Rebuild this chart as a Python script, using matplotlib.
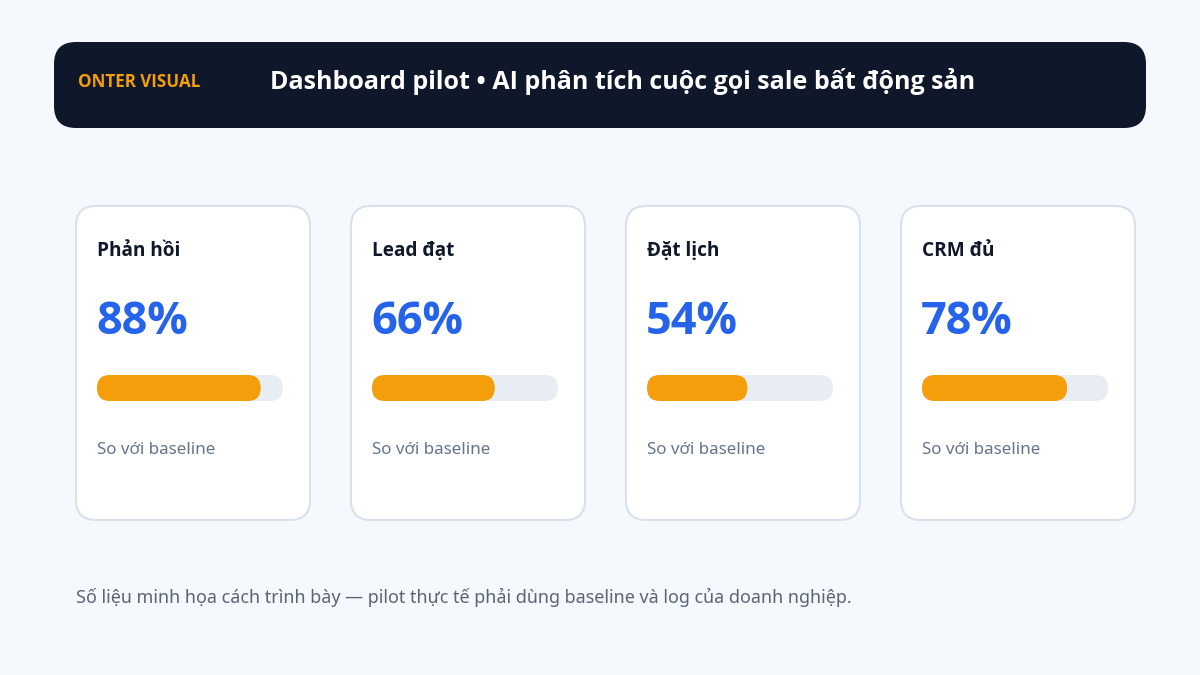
import matplotlib
matplotlib.use("Agg")
import matplotlib.pyplot as plt
from matplotlib.patches import FancyBboxPatch

plt.rcParams['font.family'] = ['Noto Sans', 'DejaVu Sans']
BOLD = ['Open Sans', 'DejaVu Sans']

brand = "ONTER VISUAL"
title = "Dashboard pilot • AI phân tích cuộc gọi sale bất động sản"
labels = ["Phản hồi", "Lead đạt", "Đặt lịch", "CRM đủ"]
values = [88, 66, 54, 78]
subtitle = "So với baseline"
footer = "Số liệu minh họa cách trình bày — pilot thực tế phải dùng baseline và log của doanh nghiệp."

PT = 0.72  # px -> pt at dpi 100
fig = plt.figure(figsize=(12, 6.75), dpi=100)
fig.patch.set_facecolor("#f5f8fc")
ax = fig.add_axes([0, 0, 1, 1])
ax.set_xlim(0, 1200)
ax.set_ylim(675, 0)
ax.axis("off")

ax.add_patch(FancyBboxPatch((54, 42), 1092, 86, boxstyle="round,pad=0,rounding_size=22",
                            fc="#0f172a", ec="none"))
ax.text(78, 82, brand, color="#f59e0b", fontsize=17*PT, fontweight="bold", family=BOLD, va="center")
ax.text(270, 81, title, color="white", fontsize=25*PT, fontweight="bold", family=BOLD, va="center")

card_x = [76, 351, 626, 901]
for x0, lab, v in zip(card_x, labels, values):
    ax.add_patch(FancyBboxPatch((x0, 206), 234, 314, boxstyle="round,pad=0,rounding_size=20",
                                fc="white", ec="#d8e1ec", lw=1.5))
    ax.text(x0 + 21, 251, lab, color="#0f172a", fontsize=19*PT, fontweight="bold", family=BOLD, va="center")
    ax.text(x0 + 20, 323, f"{v}%", color="#2563eb", fontsize=45*PT, fontweight="bold", family=BOLD, va="center")
    tw = 186
    ax.add_patch(FancyBboxPatch((x0 + 21, 375), tw, 26, boxstyle="round,pad=0,rounding_size=13",
                                fc="#e8edf4", ec="none"))
    ax.add_patch(FancyBboxPatch((x0 + 21, 375), tw * v / 100, 26,
                                boxstyle="round,pad=0,rounding_size=13", fc="#f59e0b", ec="none"))
    ax.text(x0 + 21, 450, subtitle, color="#64748b", fontsize=17*PT, va="center")

ax.text(76, 597, footer, color="#5b6578", fontsize=18*PT, va="center")

fig.savefig("out.png", dpi=100, facecolor=fig.get_facecolor())
